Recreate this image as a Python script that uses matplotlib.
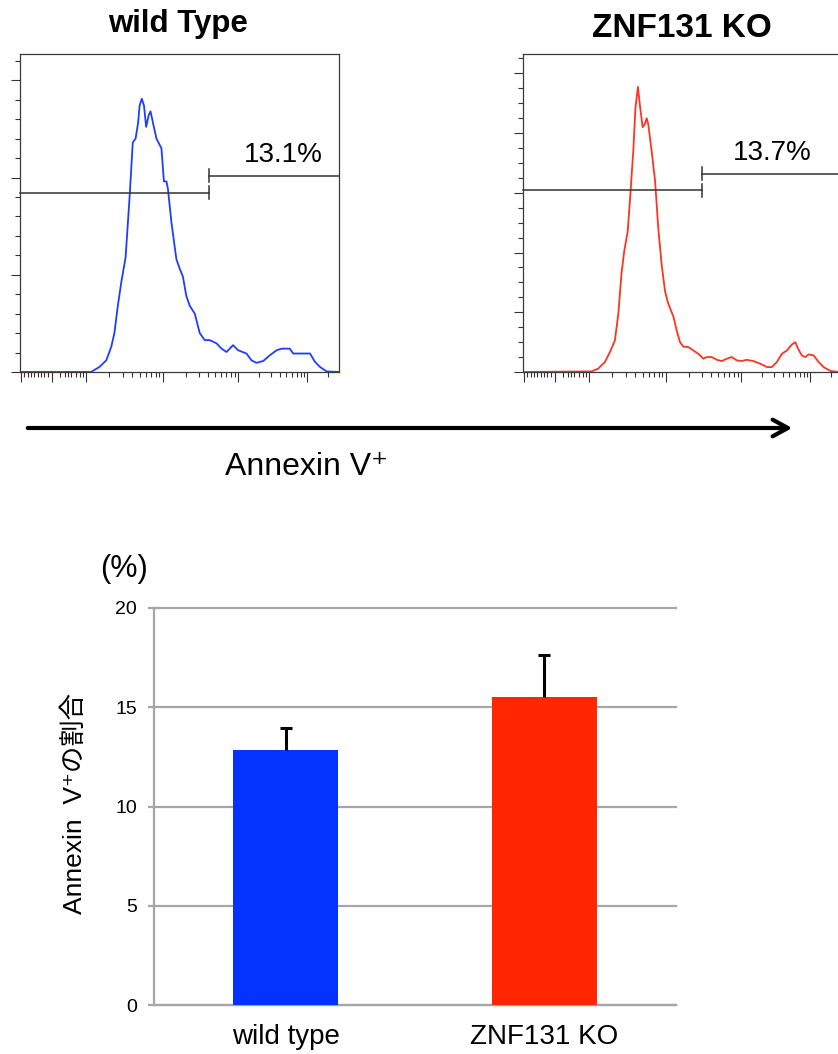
import numpy as np
import matplotlib.pyplot as plt
from matplotlib.patches import FancyArrowPatch

plt.rcParams['font.family'] = ['Liberation Sans', 'Noto Sans CJK JP', 'DejaVu Sans']

# histogram traces (x: display channel 0-1024, y: counts in tick units)
wt_x = [0, 228, 255, 277, 293, 303, 314, 325, 339, 352,
        362, 371, 379, 384, 391, 398, 405, 413, 419, 427,
        438, 454, 462, 470, 475, 486, 502, 513, 523, 534,
        545, 561, 577, 593, 609, 631, 647, 663, 684, 700,
        727, 743, 759, 781, 802, 824, 840, 866, 877, 931,
        947, 963, 984, 1024]
wt_y = [0, 0, 0.26, 0.6, 1.3, 2.0, 3.4, 4.6, 5.9, 9.05,
        11.8, 12.0, 12.8, 13.7, 14.05, 13.7, 12.6, 13.2, 13.4, 12.8,
        12.0, 11.5, 9.8, 9.8, 9.4, 7.7, 5.8, 5.3, 4.9, 3.9,
        3.4, 3.0, 2.0, 1.64, 1.64, 1.47, 1.2, 1.03, 1.38, 1.12,
        0.95, 0.6, 0.47, 0.57, 0.86, 1.12, 1.2, 1.2, 0.95, 0.95,
        0.52, 0.26, 0.03, 0]

ko_x = [0, 220, 241, 263, 279, 295, 306, 316, 325, 336,
        343, 354, 361, 369, 375, 384, 391, 397, 402, 413,
        424, 434, 445, 456, 466, 483, 493, 504, 515, 531,
        547, 563, 579, 590, 606, 622, 638, 654, 670, 686,
        702, 718, 740, 761, 783, 799, 815, 831, 847, 863,
        874, 883, 895, 906, 917, 933, 949, 965, 987, 1013,
        1024]
ko_y = [0, 0.04, 0.22, 0.67, 1.33, 2.11, 3.89, 6.56, 8.1, 9.4,
        11.4, 14.8, 17.7, 19.1, 17.9, 16.4, 16.6, 17.0, 16.6, 14.8,
        12.8, 9.7, 7.2, 5.4, 4.6, 3.7, 2.8, 2.0, 1.7, 1.67,
        1.44, 1.22, 0.89, 1.0, 1.0, 0.82, 0.73, 0.89, 1.0, 0.78,
        0.73, 0.82, 0.73, 0.56, 0.33, 0.33, 0.67, 1.22, 1.44, 1.84,
        2.0, 1.56, 1.11, 1.0, 1.18, 1.11, 0.67, 0.33, 0.07, 0,
        0]

# gates: split channel, left bar height, right bar height
wt_gate = [607, 9.22, 10.09]
ko_gate = [576, 12.18, 13.27]
wt_pct = '13.1%'
ko_pct = '13.7%'
wt_lbl = [844, 10.8]
ko_lbl = [799, 14.2]

# bar chart
groups = ['wild type', 'ZNF131 KO']
means = [12.85, 15.5]
errs = [1.1, 2.15]

# axis ticks of the flow plots
major_x = [3, 102, 212, 459, 700, 922]
decades = [212, 459, 700, 922, 1144]
lin_minor = [14, 25, 35, 46, 57, 67, 78, 89, 127, 143, 153, 164, 180, 191, 202]


def flow_axes(ax, ymax, ymajor):
    ax.set_xlim(0, 1024)
    ax.set_ylim(0, ymax)
    minor = list(lin_minor)
    for d0, d1 in zip(decades[:-1], decades[1:]):
        for k in range(2, 10):
            p = d0 + np.log10(k) * (d1 - d0)
            if p < 1024:
                minor.append(p)
    ax.set_xticks(major_x)
    ax.set_xticks(minor, minor=True)
    ax.set_yticks(np.arange(0, ymax, ymajor))
    ax.set_yticks(np.arange(0, ymax, 1), minor=True)
    ax.set_xticklabels([])
    ax.set_yticklabels([])
    ax.tick_params(which='major', direction='out', length=7.5, width=0.8, color='#333333')
    ax.tick_params(which='minor', direction='out', length=3.5, width=0.8, color='#333333')
    ax.tick_params(axis='y', which='major', length=6.5)
    for s in ax.spines.values():
        s.set_color('#3a3a3a')
        s.set_linewidth(0.9)


def draw_gate(ax, gate, ymax):
    g, ylo, yhi = gate
    ax.plot([0, g], [ylo, ylo], color='#333333', lw=1.1, clip_on=False)
    ax.plot([g, 1024], [yhi, yhi], color='#333333', lw=1.1, clip_on=False)
    h = 0.33 * ymax / 16.35
    ax.plot([g, g], [ylo - h, ylo + h], color='#333333', lw=1.1)
    ax.plot([g, g], [yhi - h, yhi + h], color='#333333', lw=1.1)


fig = plt.figure(figsize=(8.38, 10.54), dpi=100)
W, H = 838.0, 1054.0

ax1 = fig.add_axes([20 / W, 1 - 372 / H, 319 / W, 318 / H])
ax1.plot(wt_x, wt_y, color='#1f3dff', lw=1.3)
flow_axes(ax1, 16.35, 5)
draw_gate(ax1, wt_gate, 16.35)
ax1.text(wt_lbl[0], wt_lbl[1], wt_pct, ha='center', va='baseline', fontsize=20)

ax2 = fig.add_axes([523 / W, 1 - 372 / H, 319 / W, 318 / H])
ax2.plot(ko_x, ko_y, color='#ff3322', lw=1.3)
flow_axes(ax2, 21.3, 4)
draw_gate(ax2, ko_gate, 21.3)
ax2.text(ko_lbl[0], ko_lbl[1], ko_pct, ha='center', va='baseline', fontsize=20)

fig.text(178 / W, 1 - 32 / H, 'wild Type', ha='center', va='baseline',
         fontsize=22.5, fontweight='bold')
fig.text(682 / W, 1 - 37 / H, 'ZNF131 KO', ha='center', va='baseline',
         fontsize=24, fontweight='bold')

arrow = FancyArrowPatch((25 / W, 1 - 428 / H), (795 / W, 1 - 428 / H),
                        transform=fig.transFigure,
                        arrowstyle='->,head_length=11,head_width=6',
                        mutation_scale=1, lw=3, color='black')
fig.add_artist(arrow)
fig.text(225 / W, 1 - 475 / H, 'Annexin V\u207a', ha='left', va='baseline', fontsize=23)

# bar chart
ax3 = fig.add_axes([154 / W, 1 - 1005 / H, 522 / W, 397 / H])
xpos = np.arange(len(groups))
tops = [m + e for m, e in zip(means, errs)]
ax3.bar(xpos, means, width=0.405, color=['#0433ff', '#ff2600'], zorder=3)
ax3.vlines(xpos, means, tops, color='black', lw=2.2, zorder=4)
ax3.plot(xpos, tops, linestyle='none', marker='_', markersize=9,
         markeredgewidth=2.2, color='black', zorder=4)
ax3.set_xlim(-0.508, 1.508)
ax3.set_ylim(0, 20)
ax3.set_yticks([0, 5, 10, 15, 20])
ax3.set_xticks(xpos)
ax3.set_xticklabels(groups)
ax3.set_axisbelow(True)
ax3.yaxis.grid(True, color='#a6a6a6', lw=1.6)
for gl in ax3.get_ygridlines():
    gl.set_clip_on(False)
for s in ['top', 'right']:
    ax3.spines[s].set_visible(False)
for s in ['left', 'bottom']:
    ax3.spines[s].set_color('#a6a6a6')
    ax3.spines[s].set_linewidth(1.6)
ax3.tick_params(axis='x', length=0, labelsize=20, pad=14)
ax3.tick_params(axis='y', length=4.3, width=1.6, color='#a6a6a6', labelsize=14, pad=8)

fig.text(124 / W, 1 - 569 / H, '(%)', ha='center', va='center', fontsize=22)
fig.text(75 / W, 1 - 803 / H, 'Annexin  V\u207aの割合', rotation=90,
         ha='center', va='center', fontsize=19)

fig.savefig('out.png', dpi=100)
